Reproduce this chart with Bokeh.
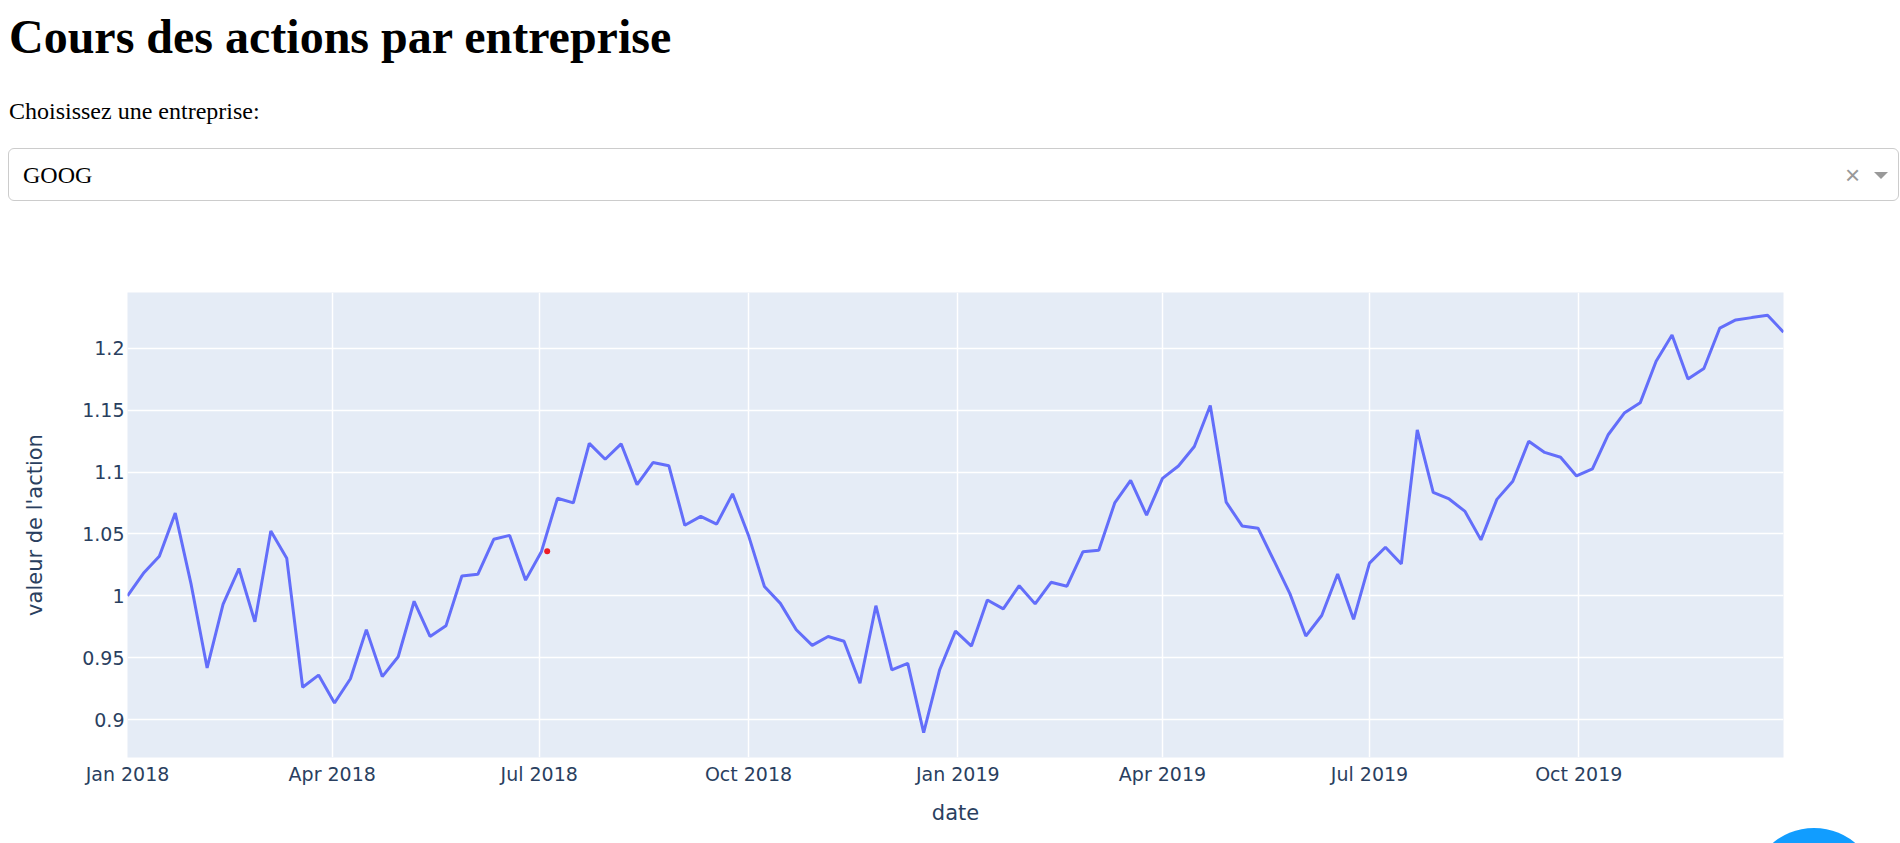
import pandas as pd
from bokeh.plotting import figure
from bokeh.models import Div, FixedTicker, Range1d
from bokeh.layouts import column
from bokeh.embed import file_html
from bokeh.resources import INLINE

# ---- data (GOOG, normalised weekly close) ----
start_date = "2018-01-01"
end_date = "2019-12-30"
goog = [
    1.0, 1.018172, 1.032008, 1.066783, 1.008989, 0.941736, 0.993015, 1.022033, 0.978998,
    1.052282, 1.030411, 0.926110, 0.935983, 0.913425, 0.933029, 0.972690, 0.934730,
    0.950768, 0.995599, 0.967184, 0.975748, 1.015982, 1.017384, 1.045624, 1.048789,
    1.012671, 1.035875, 1.078753, 1.075115, 1.123169, 1.110335, 1.122783, 1.089829,
    1.107609, 1.105008, 1.056963, 1.064121, 1.057892, 1.082382, 1.048789, 1.007474,
    0.993896, 0.972628, 0.959939, 0.967166, 0.963284, 0.929428, 0.992013, 0.940233,
    0.945373, 0.889522, 0.940052, 0.971475, 0.959393, 0.996579, 0.989430, 1.008198,
    0.993490, 1.010895, 1.007774, 1.035550, 1.036798, 1.074996, 1.093219, 1.065134,
    1.094889, 1.104861, 1.120649, 1.153662, 1.075670, 1.056435, 1.054633, 1.028346,
    1.001752, 0.967465, 0.984116, 1.017656, 0.980977, 1.026417, 1.039265, 1.025746,
    1.133981, 1.083494, 1.078243, 1.068161, 1.045198, 1.077890, 1.092578, 1.124846,
    1.115837, 1.111966, 1.096789, 1.102513, 1.130315, 1.147592, 1.155858, 1.189487,
    1.210641, 1.175129, 1.183658, 1.216280, 1.222821, 1.224718, 1.226559, 1.213015,
]
dates = pd.date_range(start_date, end_date, freq="7D")

# small red marker visible in the screenshot (hover point)
marker_date = ["2018-07-04 12:00"]
marker_value = [1.036]

x_tick_dates = ["2018-01-01", "2018-04-01", "2018-07-01", "2018-10-01",
                "2019-01-01", "2019-04-01", "2019-07-01", "2019-10-01"]
x_tick_labels = ["Jan 2018", "Apr 2018", "Jul 2018", "Oct 2018",
                 "Jan 2019", "Apr 2019", "Jul 2019", "Oct 2019"]
y_ticks = [0.9, 0.95, 1.0, 1.05, 1.1, 1.15, 1.2]
y_tick_labels = ["0.9", "0.95", "1", "1.05", "1.1", "1.15", "1.2"]

title_text = "Cours des actions par entreprise"
label_text = "Choisissez une entreprise:"
selected = "GOOG"
x_title = "date"
y_title = "valeur de l'action"

# ---- header (Dash-like page) ----
dx = 4
header_html = f"""
<div style="position:relative;width:1884px;height:230px;font-family:'Liberation Serif','Times New Roman',serif;color:#000;">
  <div style="position:absolute;left:{dx}px;top:7.5px;font-size:48px;line-height:48px;font-weight:bold;white-space:nowrap;">{title_text}</div>
  <div style="position:absolute;left:{dx}px;top:94px;font-size:24px;line-height:24px;white-space:nowrap;">{label_text}</div>
  <div style="position:absolute;left:{dx - 1}px;top:142.5px;width:1891px;height:53px;box-sizing:border-box;border:1px solid #cccccc;border-radius:6px;background:#fff;"></div>
  <div style="position:absolute;left:{dx + 14}px;top:158px;font-size:24px;line-height:24px;white-space:nowrap;">{selected}</div>
  <div style="position:absolute;left:{dx + 1836}px;top:143.5px;height:53px;line-height:53px;font-family:'Liberation Sans',Arial,sans-serif;font-size:26px;color:#999999;">&#215;</div>
  <div style="position:absolute;left:{dx + 1865}px;top:166.5px;width:0;height:0;border-left:7.5px solid transparent;border-right:7.5px solid transparent;border-top:7.5px solid #999999;"></div>
</div>
<div style="position:fixed;z-index:10000;left:1750px;top:828px;width:128px;height:128px;border-radius:50%;background:#119dff;"></div>
"""
header = Div(text=header_html, width=1884, height=230, styles={"z-index": "10"})

# ---- chart ----
x0 = pd.Timestamp(start_date)
x1 = pd.Timestamp(end_date)
p = figure(width=1884, height=603, x_axis_type="datetime",
           output_backend="svg", toolbar_location=None,
           x_range=Range1d(x0, x1), y_range=Range1d(0.8694, 1.245),
           min_border_left=127, min_border_right=101,
           min_border_top=52, min_border_bottom=86)
p.background_fill_color = "#e5ecf6"
p.border_fill_color = "#ffffff"
p.outline_line_color = None

p.line(dates, goog, line_color="#636efa", line_width=3)
p.scatter(pd.to_datetime(marker_date), marker_value, size=6,
          fill_color="#ee1c25", line_color=None)

tick_ms = [pd.Timestamp(d).value / 1e6 for d in x_tick_dates]
p.xaxis.ticker = FixedTicker(ticks=tick_ms)
p.xaxis.major_label_overrides = {t: l for t, l in zip(tick_ms, x_tick_labels)}
p.yaxis.ticker = FixedTicker(ticks=y_ticks)
p.yaxis.major_label_overrides = {t: l for t, l in zip(y_ticks, y_tick_labels)}

for ax in (p.xaxis[0], p.yaxis[0]):
    ax.axis_line_color = None
    ax.major_tick_line_color = None
    ax.minor_tick_line_color = None
    ax.major_tick_in = 0
    ax.major_tick_out = 0
    ax.major_label_text_font = "DejaVu Sans"
    ax.major_label_text_font_size = "19px"
    ax.major_label_text_color = "#2a3f5f"
    ax.axis_label_text_font = "DejaVu Sans"
    ax.axis_label_text_font_size = "21px"
    ax.axis_label_text_font_style = "normal"
    ax.axis_label_text_color = "#2a3f5f"

p.xaxis.axis_label = x_title
p.yaxis.axis_label = y_title
p.xaxis.major_label_standoff = 5
p.xaxis.axis_label_standoff = 13
p.yaxis.major_label_standoff = 3
p.yaxis.axis_label_standoff = 32

p.xgrid.grid_line_color = "#ffffff"
p.xgrid.grid_line_width = 1.5
p.ygrid.grid_line_color = "#ffffff"
p.ygrid.grid_line_width = 1.5

layout = column(header, p, spacing=0)
open("out.html", "w").write(file_html(layout, INLINE))
